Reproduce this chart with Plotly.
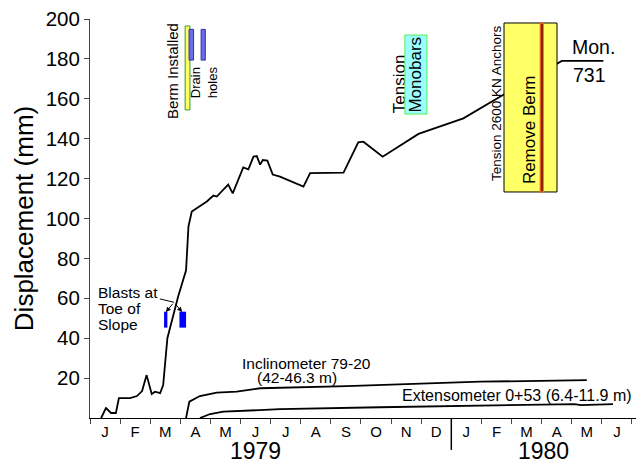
import plotly.graph_objects as go

# ---- data (x in months since 1 Jan 1979) ----
mon_x = [0.37, 0.53, 0.70, 0.86, 0.96, 1.33, 1.56, 1.73, 1.88, 2.05, 2.16, 2.33, 2.43, 2.57,
         2.93, 3.19, 3.27, 3.38, 3.88, 4.10, 4.21, 4.59, 4.74, 5.09, 5.26, 5.43, 5.54, 5.65,
         5.74, 5.89, 6.07, 6.31, 7.09, 7.31, 8.42, 8.91, 9.08, 9.72, 10.91, 12.40, 13.73,
         14.95, 15.67, 17.05]
mon_y = [0, 5, 2.5, 2.5, 10, 10, 11, 13.5, 21.5, 12, 13.2, 12.5, 16.5, 40,
         61, 74, 96, 103.5, 108.5, 111.5, 111, 117, 112.6, 125.6, 124.6, 131, 131.3, 127,
         129.3, 129, 122, 121, 116, 122.7, 123, 138.2, 138.5, 131, 142.4, 150.2, 162,
         172.8, 179, 179]

inc_x = [3.19, 3.30, 3.65, 4.21, 4.87, 5.65, 8.53, 12.96, 16.50]
inc_y = [0, 8.2, 11, 12.7, 13.2, 14.9, 16, 18.2, 19]

ext_x = [3.65, 3.82, 3.99, 4.43, 6.31, 9.63, 14.06, 15.6, 16.1, 16.3, 17.37]
ext_y = [0, 1, 2, 3.2, 4.4, 5.4, 6.4, 6.8, 7.0, 6.5, 7.0]

month_letters = ["J", "F", "M", "A", "M", "J", "J", "A", "S", "O", "N", "D",
                 "J", "F", "M", "A", "M", "J"]
y_ticks = [20, 40, 60, 80, 100, 120, 140, 160, 180, 200]

FONT = "Liberation Sans, Arial, sans-serif"

fig = go.Figure()
for xs, ys in [(mon_x, mon_y), (inc_x, inc_y), (ext_x, ext_y)]:
    fig.add_trace(go.Scatter(x=xs, y=ys, mode="lines",
                             line=dict(color="black", width=1.8),
                             showlegend=False, hoverinfo="skip"))

shapes = []
# Berm installed bar
shapes.append(dict(type="rect", x0=3.16, x1=3.32, y0=154.4, y1=196.5,
                   fillcolor="#ffff66", line=dict(color="#339933", width=1)))
# drain holes
for a, b in [(3.29, 3.44), (3.69, 3.83)]:
    shapes.append(dict(type="rect", x0=a, x1=b, y0=179.4, y1=194.8,
                       fillcolor="#6b6bf0", line=dict(color="#333399", width=1)))
# blasts
for a, b in [(2.46, 2.57), (2.97, 3.19)]:
    shapes.append(dict(type="rect", x0=a, x1=b, y0=45.3, y1=53.3,
                       fillcolor="#0000ff", line=dict(width=0)))
# remove berm box
shapes.append(dict(type="rect", x0=13.75, x1=15.51, y0=113.3, y1=198,
                   fillcolor="#ffff66", line=dict(color="black", width=1)))
shapes.append(dict(type="rect", x0=14.95, x1=15.06, y0=113.3, y1=198,
                   fillcolor="#8b2200", line=dict(color="#ff7722", width=1)))
# blasts leader
shapes.append(dict(type="line", x0=2.32, y0=59.7, x1=2.79, y1=58.0,
                   line=dict(color="black", width=1)))
# long tick at Jan 1980
shapes.append(dict(type="line", xref="x", yref="paper", x0=12, x1=12, y0=0, y1=-0.08,
                   line=dict(color="black", width=1.5)))

ann = []
def txt(x, y, s, size=16, angle=0, xanchor="center", yanchor="middle", **kw):
    ann.append(dict(x=x, y=y, text=s, showarrow=False, textangle=angle,
                    xanchor=xanchor, yanchor=yanchor,
                    font=dict(family=FONT, size=size, color="black"), **kw))

txt(2.76, 174.0, "Berm Installed", size=15, angle=-90)
txt(3.79, 168.4, "Drain<br>holes", size=13, angle=-90)
txt(10.27, 167.4, "Tension", size=17, angle=-90)
txt(10.81, 172.4, "Monobars", size=17, angle=-90, bgcolor="#99ffff",
    bordercolor="#55ee55", borderwidth=1, borderpad=1)
txt(13.52, 157.9, "Tension 2600 KN Anchors", size=13.5, angle=-90)
txt(14.62, 144.4, "Remove Berm", size=17, angle=-90)
txt(15.93, 186.0, "Mon.", size=19.5, xanchor="left")
txt(15.96, 172.0, "731", size=19.5, xanchor="left")
txt(0.2, 62.7, "Blasts at", size=15.5, xanchor="left")
txt(0.2, 54.7, "Toe of", size=15.5, xanchor="left")
txt(0.2, 46.7, "Slope", size=15.5, xanchor="left")
txt(7.18, 27.1, "Inclinometer 79-20", size=15.5)
txt(6.87, 20.1, "(42-46.3 m)", size=15.5)
txt(14.19, 11.5, "Extensometer 0+53 (6.4-11.9 m)", size=16)

# blast arrows
for hx in [2.52, 3.06]:
    ann.append(dict(x=hx, y=53.1, ax=2.79, ay=58.0, axref="x", ayref="y",
                    xref="x", yref="y", text="", showarrow=True,
                    arrowhead=2, arrowsize=1, arrowwidth=1, arrowcolor="black"))

# years
for x, s in [(5.48, "1979"), (15.05, "1980")]:
    ann.append(dict(x=x, y=-0.083, xref="x", yref="paper", text=s, showarrow=False,
                    xanchor="center", yanchor="middle",
                    font=dict(family=FONT, size=23, color="black")))

fig.update_layout(
    width=636, height=456,
    margin=dict(l=82, r=3, t=11, b=46),
    paper_bgcolor="white", plot_bgcolor="white",
    font=dict(family=FONT, color="black"),
    shapes=shapes, annotations=ann,
    xaxis=dict(range=[0, 18.3], showgrid=False, zeroline=False, automargin=False,
               showline=True, linecolor="black", linewidth=1,
               tickmode="array", tickvals=[i + 0.5 for i in range(18)],
               ticktext=month_letters, ticks="", tickfont=dict(size=15),
               ticklabelstandoff=0,
               minor=dict(tickmode="array", tickvals=list(range(19)), ticks="outside",
                          ticklen=5, tickcolor="#444", tickwidth=1, showgrid=False)),
    yaxis=dict(range=[0, 200], showgrid=False, zeroline=False, automargin=False,
               showline=True, linecolor="#444", linewidth=1,
               tickmode="array", tickvals=y_ticks, ticks="outside", ticklen=5,
               tickcolor="#444", tickfont=dict(size=20.5), ticklabeloverflow="allow",
               title=dict(text="Displacement (mm)", font=dict(size=26), standoff=4)),
)

fig.write_html("out.html")
